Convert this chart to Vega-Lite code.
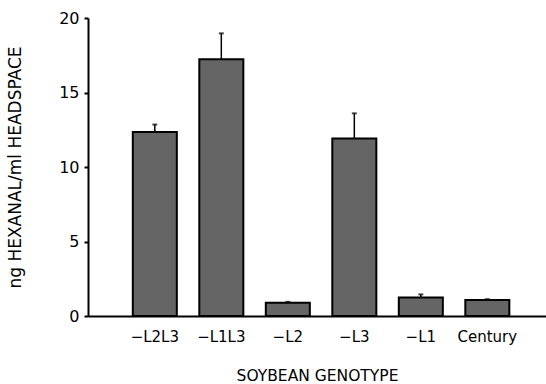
{
  "$schema": "https://vega.github.io/schema/vega-lite/v6.json",
  "autosize": "none",
  "width": 458,
  "height": 298,
  "padding": {"left": 88, "top": 18, "right": 0, "bottom": 68},
  "background": "white",
  "config": {"view": {"stroke": null}, "font": "DejaVu Sans"},
  "data": {"values": [
    {"genotype": "−L2L3", "value": 12.35, "upper": 12.85},
    {"genotype": "−L1L3", "value": 17.23, "upper": 18.97},
    {"genotype": "−L2", "value": 0.89, "upper": 0.95},
    {"genotype": "−L3", "value": 11.92, "upper": 13.6},
    {"genotype": "−L1", "value": 1.25, "upper": 1.45},
    {"genotype": "Century", "value": 1.07, "upper": 1.13}
  ]},
  "encoding": {
    "x": {
      "field": "genotype", "type": "nominal", "sort": null,
      "scale": {"paddingInner": 0.338, "paddingOuter": 0.6125, "align": 0.55},
      "axis": {
        "title": "SOYBEAN GENOTYPE", "titleFont": "DejaVu Sans", "titleFontWeight": "normal",
        "titleFontSize": 15.5, "titleColor": "black", "titlePadding": 24,
        "labelAngle": 0, "labelFontSize": 15, "labelColor": "black", "labelPadding": 13,
        "ticks": false, "domainColor": "black", "domainWidth": 2
      }
    }
  },
  "layer": [
    {
      "mark": {"type": "bar", "fill": "#656565", "stroke": "black", "strokeWidth": 2},
      "encoding": {
        "y": {
          "field": "value", "type": "quantitative",
          "scale": {"domain": [0, 20], "nice": false},
          "axis": {
            "title": "ng HEXANAL/ml HEADSPACE", "titleFontWeight": "normal", "titleFontSize": 17,
            "titleColor": "black", "titlePadding": 34,
            "values": [0, 5, 10, 15, 20], "labelFontSize": 16, "labelColor": "black", "labelPadding": 5,
            "grid": false, "tickColor": "black", "tickSize": 4, "tickWidth": 2,
            "domainColor": "black", "domainWidth": 2
          }
        }
      }
    },
    {
      "mark": {"type": "rule", "color": "black", "strokeWidth": 1.5},
      "encoding": {
        "y": {"field": "value", "type": "quantitative"},
        "y2": {"field": "upper"}
      }
    },
    {
      "mark": {"type": "tick", "color": "black", "thickness": 2, "size": 5, "orient": "horizontal"},
      "encoding": {
        "y": {"field": "upper", "type": "quantitative"}
      }
    }
  ]
}
